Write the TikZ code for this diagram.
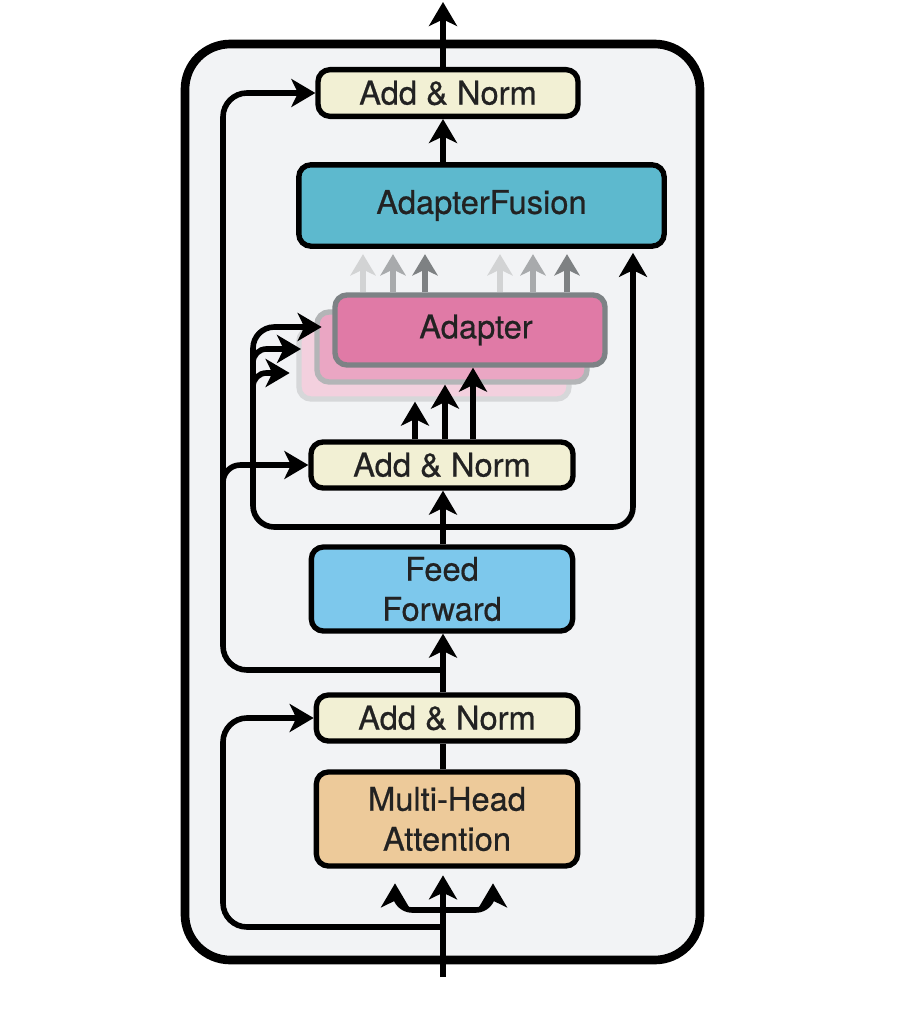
\documentclass[tikz,border=0pt]{standalone}
\usepackage{fontspec}
\setmainfont{TeX Gyre Heros}[FakeBold=0.6]
\usetikzlibrary{arrows.meta,calc}
\definecolor{framebg}{HTML}{F2F3F5}
\definecolor{normfill}{HTML}{F2F0D4}
\definecolor{fusionfill}{HTML}{5DB9CE}
\definecolor{adfill}{HTML}{E07AA6}
\definecolor{adfillb}{HTML}{EAA6C3}
\definecolor{adfillc}{HTML}{F3D0DE}
\definecolor{adborder}{HTML}{7D8285}
\definecolor{adborderb}{HTML}{B3B5B7}
\definecolor{adborderc}{HTML}{D6D7D9}
\definecolor{fffill}{HTML}{7DC8EC}
\definecolor{mhafill}{HTML}{EDCA9A}
\definecolor{txt}{HTML}{222222}
\definecolor{ga}{HTML}{D2D3D4}
\definecolor{gb}{HTML}{A8AAAC}
\definecolor{gc}{HTML}{7E8183}
\begin{document}
\begin{tikzpicture}[x=0.75pt,y=-0.75pt,
  box/.style={draw=black, line width=4pt, rounded corners=9pt, align=center,
    font=\fontsize{24.5}{30}\selectfont, text=txt, inner sep=0pt},
  arr/.style={line width=4.2pt, -{Stealth[length=18pt,width=21pt,inset=5pt]}},
  garr/.style={line width=4pt, -{Stealth[length=16pt,width=19pt,inset=4.5pt]}},
  ln/.style={line width=4.2pt}
]
\useasboundingbox (0,0) rectangle (906,1024);
\fill[white] (0,0) rectangle (906,1024);
% outer frame
\draw[line width=6.5pt, fill=framebg, rounded corners=34pt] (185,44) rectangle (700,960);

\coordinate (mx) at (443,0);
\coordinate (out) at (443,2);
\coordinate (in) at (443,977);
\coordinate (r1) at (443,927);
\coordinate (r2) at (443,670);
\coordinate (b) at (443,527);
\coordinate (ib) at (443,910);

% nodes
\node[box, fill=normfill, minimum width=195pt, minimum height=35pt] (an3) at (448,93) {Add \& Norm};
\node[box, fill=fusionfill, minimum width=274pt, minimum height=61pt] (fusion) at (481.5,205.5) {AdapterFusion};
\node[box, draw=adborderc, fill=adfillc, minimum width=202.5pt, minimum height=52.5pt] (ad3) at (434,364) {};
\node[box, draw=adborderb, fill=adfillb, minimum width=202.5pt, minimum height=52.5pt] (ad2) at (452,347) {};
\node[box, draw=adborder, fill=adfill, minimum width=202.5pt, minimum height=52.5pt] (ad1) at (470,330) {\hspace*{9pt}Adapter};
\node[box, fill=normfill, minimum width=196.5pt, minimum height=34.5pt] (an2) at (442,465) {Add \& Norm};
\node[box, fill=fffill, minimum width=196pt, minimum height=63pt] (ff) at (442,589) {Feed\\Forward};
\node[box, fill=normfill, minimum width=196pt, minimum height=34.5pt] (an1) at (447,718) {Add \& Norm};
\node[box, fill=mhafill, minimum width=196pt, minimum height=70.5pt] (mha) at (447,819) {Multi-Head\\Attention};

% main vertical flow
\draw[arr] (an3.north -| mx) -- (out);
\draw[arr] (fusion.north -| mx) -- (an3.south -| mx);
\draw[arr] (ff.north -| mx) -- (an2.south -| mx);
\draw[arr] (an1.north -| mx) -- (ff.south -| mx);
\draw[ln] (mha.north -| mx) -- (an1.south -| mx);
\draw[arr, shorten >=5pt] (in) -- (mha.south -| mx);

% input branches
\draw[arr, rounded corners=13pt, shorten >=11pt] (ib) -| ($(mha.south)+(-52,0)$);
\draw[arr, rounded corners=13pt, shorten >=11pt] (ib) -| ($(mha.south)+(46,0)$);

% residual connections
\draw[arr, rounded corners=18pt] (r1) -- (223,927) -- (223,718) -- (an1.west);
\draw[arr, rounded corners=18pt] (r2) -- (223,670) -- (223,93) -- (an3.west);
\draw[arr, rounded corners=13pt] (223,500) |- (an2.west);

% gray arrows from adapters to fusion
\foreach \x/\c in {363/ga,393/gb,425/gc,500/ga,533/gb,567/gc}
  \draw[garr, draw=\c, color=\c, shorten >=4pt] ($(ad1.north)+(\x-470,0)$) -- ($(fusion.south)+(\x-481.5,0)$);

% feed forward output branches
\draw[arr, rounded corners=15pt, shorten >=3pt] (b) -| ($(fusion.south)+(151.5,0)$);
\draw[arr, rounded corners=16pt, shorten >=8pt] (b) -- (253,527) |- ($(ad1.west)+(0,-3)$);
\draw[arr, rounded corners=10pt, shorten >=10pt] (253,372) |- ($(ad2.west)+(0,2)$);
\draw[arr, rounded corners=10pt, shorten >=5pt] (253,395) |- ($(ad3.west)+(0,9)$);

% add & norm to adapters
\draw[arr] ($(an2.north)+(-27,0)$) -- ($(ad3.south)+(-19,0)$);
\draw[arr] ($(an2.north)+(3,0)$) -- ($(ad2.south)+(-7,0)$);
\draw[arr] ($(an2.north)+(31,0)$) -- ($(ad1.south)+(3,0)$);
\end{tikzpicture}
\end{document}
